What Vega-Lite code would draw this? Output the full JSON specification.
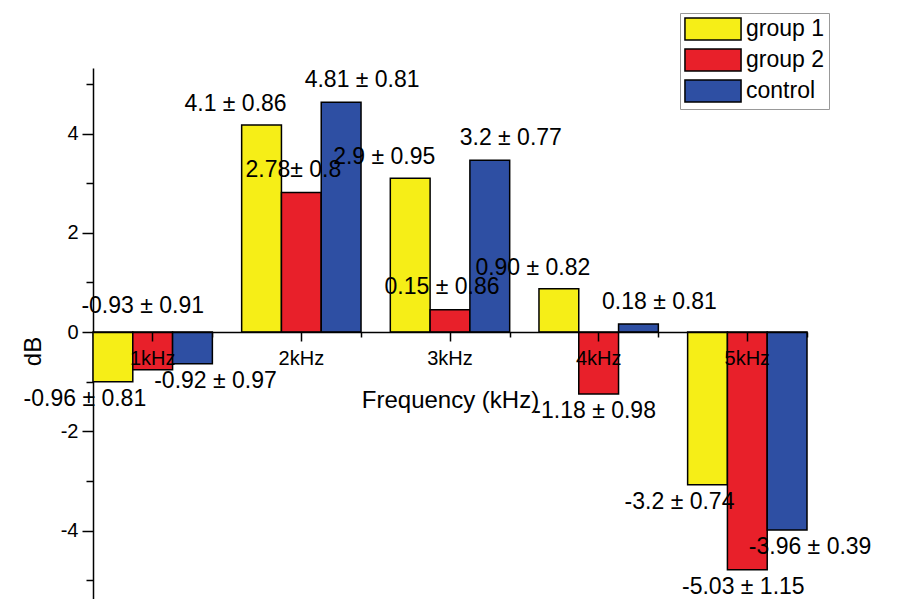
{
  "$schema": "https://vega.github.io/schema/vega-lite/v6.json",
  "width": 714,
  "height": 531,
  "autosize": {"type": "none"},
  "padding": {"left": 93, "top": 68, "right": 94, "bottom": 0},
  "background": "white",
  "config": {
    "font": "Liberation Sans",
    "view": {"stroke": null},
    "axis": {"domainColor": "black", "tickColor": "black", "labelColor": "black", "titleColor": "black", "domainWidth": 1.5, "tickWidth": 1.5, "grid": false, "titleFontWeight": "normal"},
    "text": {"font": "Liberation Sans", "fontSize": 23, "color": "black"}
  },
  "data": {
    "values": [
      {"freq": "1kHz", "series": "group 1", "dB": -1.0, "label": "-0.96 ± 0.81"},
      {"freq": "1kHz", "series": "group 2", "dB": -0.76, "label": "-0.93 ± 0.91"},
      {"freq": "1kHz", "series": "control", "dB": -0.64, "label": "-0.92 ± 0.97"},
      {"freq": "2kHz", "series": "group 1", "dB": 4.17, "label": "4.1 ± 0.86"},
      {"freq": "2kHz", "series": "group 2", "dB": 2.81, "label": "2.78± 0.8"},
      {"freq": "2kHz", "series": "control", "dB": 4.63, "label": "4.81 ± 0.81"},
      {"freq": "3kHz", "series": "group 1", "dB": 3.1, "label": "2.9 ± 0.95"},
      {"freq": "3kHz", "series": "group 2", "dB": 0.45, "label": "0.15 ± 0.86"},
      {"freq": "3kHz", "series": "control", "dB": 3.46, "label": "3.2 ± 0.77"},
      {"freq": "4kHz", "series": "group 1", "dB": 0.87, "label": "0.90 ± 0.82"},
      {"freq": "4kHz", "series": "group 2", "dB": -1.25, "label": "-1.18 ± 0.98"},
      {"freq": "4kHz", "series": "control", "dB": 0.16, "label": "0.18 ± 0.81"},
      {"freq": "5kHz", "series": "group 1", "dB": -3.08, "label": "-3.2 ± 0.74"},
      {"freq": "5kHz", "series": "group 2", "dB": -4.79, "label": "-5.03 ± 1.15"},
      {"freq": "5kHz", "series": "control", "dB": -3.99, "label": "-3.96 ± 0.39"}
    ]
  },
  "encoding": {
    "x": {"field": "freq", "type": "nominal", "sort": ["1kHz", "2kHz", "3kHz", "4kHz", "5kHz"], "scale": {"paddingInner": 0.197, "paddingOuter": 0}, "axis": null},
    "xOffset": {"field": "series", "type": "nominal", "sort": ["group 1", "group 2", "control"]},
    "y": {"field": "dB", "type": "quantitative", "scale": {"domain": [-5.38, 5.32], "nice": false, "zero": false}, "axis": null}
  },
  "layer": [
    {
      "mark": {"type": "bar", "stroke": "black", "strokeWidth": 1.5},
      "encoding": {
        "x": {"field": "freq", "type": "nominal", "sort": ["1kHz", "2kHz", "3kHz", "4kHz", "5kHz"],
          "axis": {"orient": "bottom", "offset": -267, "zindex": 1, "labelAngle": 0, "labelFontSize": 20, "labelPadding": 7, "labelBaseline": "top", "tickSize": 9, "title": "Frequency (kHz)", "titleFontSize": 24, "titleX": 357, "titleY": 56, "titleBaseline": "top", "titleAnchor": "middle"}},
        "y": {"field": "dB", "type": "quantitative",
          "axis": {"orient": "left", "values": [-4, -2, 0, 2, 4], "labelExpr": "replace(datum.label, '−', '-')", "tickSize": 11, "labelFontSize": 20, "labelPadding": 4, "title": "dB", "titleFontSize": 24, "titleX": -53, "titleY": 283, "titleAngle": 270, "titleAlign": "center", "titleBaseline": "alphabetic"}},
        "color": {"field": "series", "type": "nominal",
          "scale": {"domain": ["group 1", "group 2", "control"], "range": ["#F6EE17", "#E8202A", "#2E4FA3"]},
          "legend": {"orient": "none", "legendX": 587, "legendY": -55, "title": null, "symbolType": "M-2.55,-1H2.55V1H-2.55Z", "symbolSize": 484, "symbolOffset": 17, "symbolStrokeColor": "black", "symbolStrokeWidth": 1.5, "symbolOpacity": 1, "labelFontSize": 23, "labelColor": "black", "labelOffset": 21, "strokeColor": "#999999", "fillColor": "white", "padding": 4, "rowPadding": 3}}
      }
    },
    {
      "transform": [{"filter": "datum.series == 'group 1' && datum.dB >= 0"}],
      "mark": {"type": "text", "align": "center", "baseline": "alphabetic", "dx": -26, "dy": -14},
      "encoding": {
        "text": {"field": "label"},
        "x": {"field": "freq", "type": "nominal", "sort": ["1kHz", "2kHz", "3kHz", "4kHz", "5kHz"],
          "axis": {"orient": "bottom", "offset": -267, "tickBand": "extent", "labels": false, "domain": false, "title": null, "tickSize": 5}},
        "y": {"field": "dB", "type": "quantitative",
          "axis": {"orient": "left", "values": [-5, -3, -1, 1, 3, 5], "labels": false, "domain": false, "title": null, "tickSize": 7}}
      }
    },
    {
      "transform": [{"filter": "datum.series == 'group 1' && datum.dB < 0"}],
      "mark": {"type": "text", "align": "center", "baseline": "top", "dx": -28, "dy": 6},
      "encoding": {"text": {"field": "label"}}
    },
    {
      "transform": [{"filter": "datum.series == 'group 2' && datum.dB >= 0"}],
      "mark": {"type": "text", "align": "center", "baseline": "alphabetic", "dx": -8, "dy": -16},
      "encoding": {"text": {"field": "label"}}
    },
    {
      "transform": [{"filter": "datum.series == 'group 2' && datum.dB < 0 && datum.freq != '1kHz'"}],
      "mark": {"type": "text", "align": "center", "baseline": "top", "dx": -4, "dy": 6},
      "encoding": {"text": {"field": "label"}}
    },
    {
      "transform": [{"filter": "datum.series == 'group 2' && datum.freq == '1kHz'"}],
      "mark": {"type": "text", "align": "center", "baseline": "alphabetic", "dx": -10, "dy": -19},
      "encoding": {"text": {"field": "label"}, "y": {"datum": 0, "type": "quantitative"}}
    },
    {
      "transform": [{"filter": "datum.series == 'control' && datum.dB >= 0"}],
      "mark": {"type": "text", "align": "center", "baseline": "alphabetic", "dx": 21, "dy": -15},
      "encoding": {"text": {"field": "label"}}
    },
    {
      "transform": [{"filter": "datum.series == 'control' && datum.dB < 0"}],
      "mark": {"type": "text", "align": "center", "baseline": "top", "dx": 23, "dy": 6},
      "encoding": {"text": {"field": "label"}}
    }
  ],
  "resolve": {"axis": {"x": "independent", "y": "independent"}}
}
